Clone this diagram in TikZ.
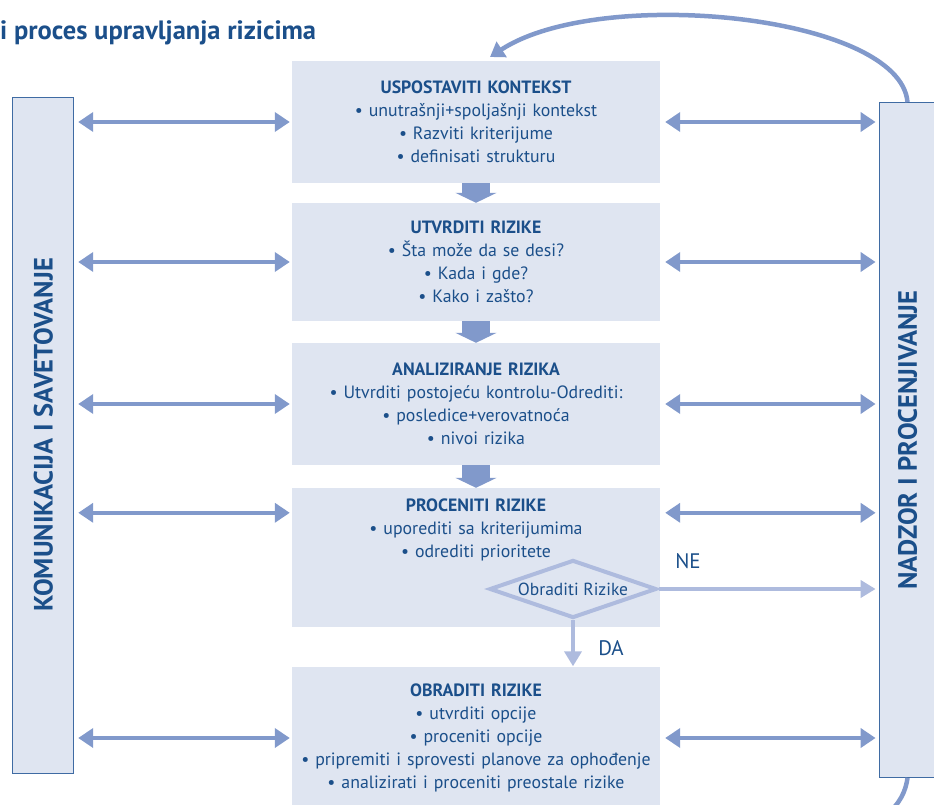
\documentclass[tikz,border=0pt]{standalone}
\usepackage{fontspec}
\setmainfont{PT Sans}
\usetikzlibrary{shapes.geometric,arrows.meta,calc}
\definecolor{boxfill}{HTML}{DFE5F1}
\definecolor{txtblue}{HTML}{1B4F8A}
\definecolor{arrblue}{HTML}{8199CB}
\definecolor{arrlight}{HTML}{AEBBDE}
\definecolor{sideline}{HTML}{3F6BA3}

\begin{document}
\begin{tikzpicture}[x=1pt,y=-1pt]
%define

\tikzstyle{state_c} = [rectangle, minimum width=368pt, text width=366pt, align=center, fill=boxfill, text=txtblue, inner sep=0pt, font=\fontsize{17.8}{23}\selectfont]
\tikzstyle{state_side} = [rectangle, draw=sideline, line width=0.8pt, fill=boxfill, inner sep=0pt]
\tikzstyle{side_text} = [rotate=90, text=txtblue, font=\fontsize{26.5}{30}\selectfont\bfseries]
\tikzstyle{arrowd} = [{Triangle[length=15pt,width=19pt]}-{Triangle[length=15pt,width=19pt]}, draw=arrblue, line width=4.5pt]
\tikzstyle{arrowf} = [-{Triangle[length=10pt,width=41pt]}, draw=arrblue, line width=28pt]
\tikzstyle{arrowl} = [-{Triangle[length=15pt,width=17pt]}, draw=arrlight, line width=4.5pt]
\tikzstyle{arrowc} = [-{Triangle[length=14pt,width=18pt]}, draw=arrblue, line width=4.5pt]

\useasboundingbox (0,0) rectangle (934,805);
\clip (0,0) rectangle (934,805);

%title
\node[anchor=west, inner sep=0pt, text=txtblue, font=\fontsize{26.5}{30}\selectfont\bfseries](title) at (0,33){i proces upravljanja rizicima};

%side blocks
\node[state_side, minimum width=61pt, minimum height=676pt](kom) at (43.3,435){};
\node[side_text] at (kom){KOMUNIKACIJA I SAVETOVANJE};
\node[state_side, minimum width=57pt, minimum height=675pt](nad) at (907.5,440){};
\node[side_text] at (nad){NADZOR I PROCENJIVANJE};

%steps
\node[state_c, minimum height=122pt](b1) at (476,122){\textbf{USPOSTAVITI KONTEKST}\\ • unutrašnji+spoljašnji kontekst\\ • Razviti kriterijume\\ • definisati strukturu};
\node[state_c, minimum height=118pt](b2) at (476,262){\textbf{UTVRDITI RIZIKE}\\ • Šta može da se desi?\\ • Kada i gde?\\ • Kako i zašto?};
\node[state_c, minimum height=122pt](b3) at (476,404){\textbf{ANALIZIRANJE RIZIKA}\\ • Utvrditi postojeću kontrolu-Odrediti:\\ • posledice+verovatnoća\\ • nivoi rizika};
\node[state_c, minimum height=139pt](b4) at (476,557.5){};
\node[state_c, fill=none, minimum width=0pt](b4txt) at ($(b4.north)+(0,42)$){\textbf{PROCENITI RIZIKE}\\ • uporediti sa kriterijumima\\ • odrediti prioritete};
\node[state_c, minimum height=143pt](b5) at (476,738){\textbf{OBRADITI RIZIKE}\\ • utvrditi opcije\\ • proceniti opcije\\ • pripremiti i sprovesti planove za ophođenje\\ • analizirati i proceniti preostale rizike};

%decision
\node[diamond, aspect=2.88, draw=arrlight, line width=4pt, fill=boxfill, text=txtblue, inner sep=0pt, minimum width=167pt, minimum height=58pt, font=\fontsize{17.5}{20}\selectfont](dec) at (573,589){Obraditi Rizike};
\node[text=txtblue, font=\fontsize{21}{24}\selectfont](ne) at (688,561){NE};
\node[text=txtblue, font=\fontsize{21}{24}\selectfont](da) at (611,648){DA};

\coordinate (row4) at ($(b4.north)+(0,25)$);
\coordinate (top_end) at (490,57);
\coordinate (bot_end) at (885,815);

%line

\draw[arrowf](b1.south)--(b2.north); %kontekst->rizike
\draw[arrowf](b2.south)--(b3.north); %rizike->analiza
\draw[arrowf](b3.south)--(b4.north); %analiza->procena
\foreach \b in {b1,b2,b3,b5}{
  \draw[arrowd, shorten <=4pt, shorten >=2pt](kom.east |- \b)--(\b.west);
  \draw[arrowd, shorten <=5pt, shorten >=3pt](\b.east)--(nad.west |- \b);
}
\draw[arrowd, shorten <=4pt, shorten >=2pt](kom.east |- row4)--(b4.west |- row4);
\draw[arrowd, shorten <=5pt, shorten >=3pt](b4.east |- row4)--(nad.west |- row4);
\draw[arrowl, shorten >=3pt](dec.east)--(nad.west |- dec.east); %NE
\draw[arrowl](dec.south)--(dec.south |- b5.north); %DA
\draw[arrowc](nad.north) .. controls (900,15) and (600,-15) .. (top_end); %nadzor->kontekst
\draw[arrblue, line width=4.5pt](nad.south) .. controls (906,790) and (900,805) .. (bot_end);

\end{tikzpicture}
\end{document}
